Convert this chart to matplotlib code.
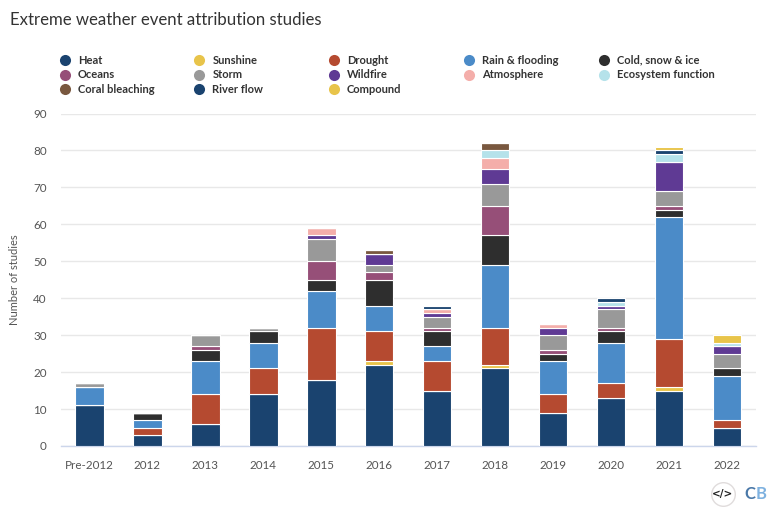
import matplotlib
matplotlib.use("Agg")
import matplotlib.pyplot as plt
from matplotlib.lines import Line2D
import numpy as np

plt.rcParams['font.family'] = ['Lato', 'DejaVu Sans']

years = ["Pre-2012", "2012", "2013", "2014", "2015", "2016", "2017", "2018", "2019", "2020", "2021", "2022"]

heat       = [11, 3, 6, 14, 18, 22, 15, 21, 9, 13, 15, 5]
sunshine   = [0, 0, 0, 0, 0, 1, 0, 1, 0, 0, 1, 0]
drought    = [0, 2, 8, 7, 14, 8, 8, 10, 5, 4, 13, 2]
rain       = [5, 2, 9, 7, 10, 7, 4, 17, 9, 11, 33, 12]
cold       = [0, 2, 3, 3, 3, 7, 4, 8, 2, 3, 2, 2]
oceans     = [0, 0, 1, 0, 5, 2, 1, 8, 1, 1, 1, 0]
storm      = [1, 0, 3, 1, 6, 2, 3, 6, 4, 5, 4, 4]
wildfire   = [0, 0, 0, 0, 1, 3, 1, 4, 2, 1, 8, 2]
atmosphere = [0, 0, 0, 0, 2, 0, 1, 3, 1, 0, 0, 0]
ecosystem  = [0, 0, 0, 0, 0, 0, 0, 2, 0, 1, 2, 1]
coral      = [0, 0, 0, 0, 0, 1, 0, 2, 0, 0, 0, 0]
river      = [0, 0, 0, 0, 0, 0, 1, 0, 0, 1, 1, 0]
compound   = [0, 0, 0, 0, 0, 0, 0, 0, 0, 0, 1, 2]

series = [
    ("Heat", heat, "#1a436f"),
    ("Sunshine", sunshine, "#e8c44a"),
    ("Drought", drought, "#b54a30"),
    ("Rain & flooding", rain, "#4b8bc8"),
    ("Cold, snow & ice", cold, "#2e2e2e"),
    ("Oceans", oceans, "#964f78"),
    ("Storm", storm, "#999999"),
    ("Wildfire", wildfire, "#5f3a94"),
    ("Atmosphere", atmosphere, "#f4aeaa"),
    ("Ecosystem function", ecosystem, "#b5e2ea"),
    ("Coral bleaching", coral, "#79583f"),
    ("River flow", river, "#1a436f"),
    ("Compound", compound, "#e8c44a"),
]

W, H = 780, 515
fig = plt.figure(figsize=(W / 100, H / 100), dpi=100)
ax = fig.add_axes([60.5 / W, 1 - 446 / H, (756 - 60.5) / W, (446 - 113.5) / H])

x = np.arange(len(years))
bottom = np.zeros(len(years))
for name, vals, col in series:
    v = np.array(vals, dtype=float)
    ax.bar(x, v, width=0.49, bottom=bottom, color=col, edgecolor="white", linewidth=0.8, zorder=3)
    bottom += v

ax.set_xlim(-0.5, 11.5)
ax.set_ylim(0, 90)
ax.set_yticks(range(0, 91, 10))
ax.set_xticks(x, years)
ax.grid(axis="y", color="#e8e8e8", linewidth=1, zorder=0)
ax.set_axisbelow(True)
for s in ["top", "right", "left"]:
    ax.spines[s].set_visible(False)
ax.spines["bottom"].set_color("#ccd6eb")
ax.spines["bottom"].set_linewidth(1)
ax.tick_params(axis="both", length=0, labelcolor="#555555", labelsize=8.4)
ax.tick_params(axis="x", pad=10)
ax.tick_params(axis="y", pad=10)
ax.set_ylabel("Number of studies", fontsize=8.0, color="#555555")
ax.yaxis.set_label_coords((20 - 60.5) / (756 - 60.5), 0.5)

fig.text(10.5 / W, 1 - 20 / H, "Extreme weather event attribution studies", fontsize=12.1,
         color="#333333", va="center", ha="left")

# legend, laid out by hand to keep the fixed column grid
col_x = [65, 199.5, 334, 469, 604]
row_y = [60, 75, 89]
order = [
    ["Heat", "Oceans", "Coral bleaching"],
    ["Sunshine", "Storm", "River flow"],
    ["Drought", "Wildfire", "Compound"],
    ["Rain & flooding", "Atmosphere"],
    ["Cold, snow & ice", "Ecosystem function"],
]
colours = {n: c for n, _, c in series}
for cx, names in zip(col_x, order):
    for ry, n in zip(row_y, names):
        fig.add_artist(Line2D([cx / W], [1 - ry / H], marker="o", markersize=8, color=colours[n],
                              markeredgewidth=0, linestyle="none", transform=fig.transFigure))
        fig.text((cx + 13) / W, 1 - ry / H, n, fontsize=8.0, fontweight="bold", color="#333333",
                 va="center", ha="left")

# publisher mark
fig.add_artist(Line2D([722.7 / W], [1 - 494 / H], marker="o", markersize=17, markerfacecolor="white",
                      markeredgecolor="#e0dcdc", markeredgewidth=1, linestyle="none",
                      transform=fig.transFigure))
fig.text(722.7 / W, 1 - 494 / H, "</>", fontsize=7.5, fontweight="bold", color="#222222",
         va="center", ha="center", family="DejaVu Sans")
fig.text(749.5 / W, 1 - 494 / H, "C", fontsize=12, fontweight="bold", color="#4a78a8", va="center", ha="center")
fig.text(761 / W, 1 - 494 / H, "B", fontsize=12, fontweight="bold", color="#7fb2e0", va="center", ha="center")

fig.savefig("out.png", dpi=100)
